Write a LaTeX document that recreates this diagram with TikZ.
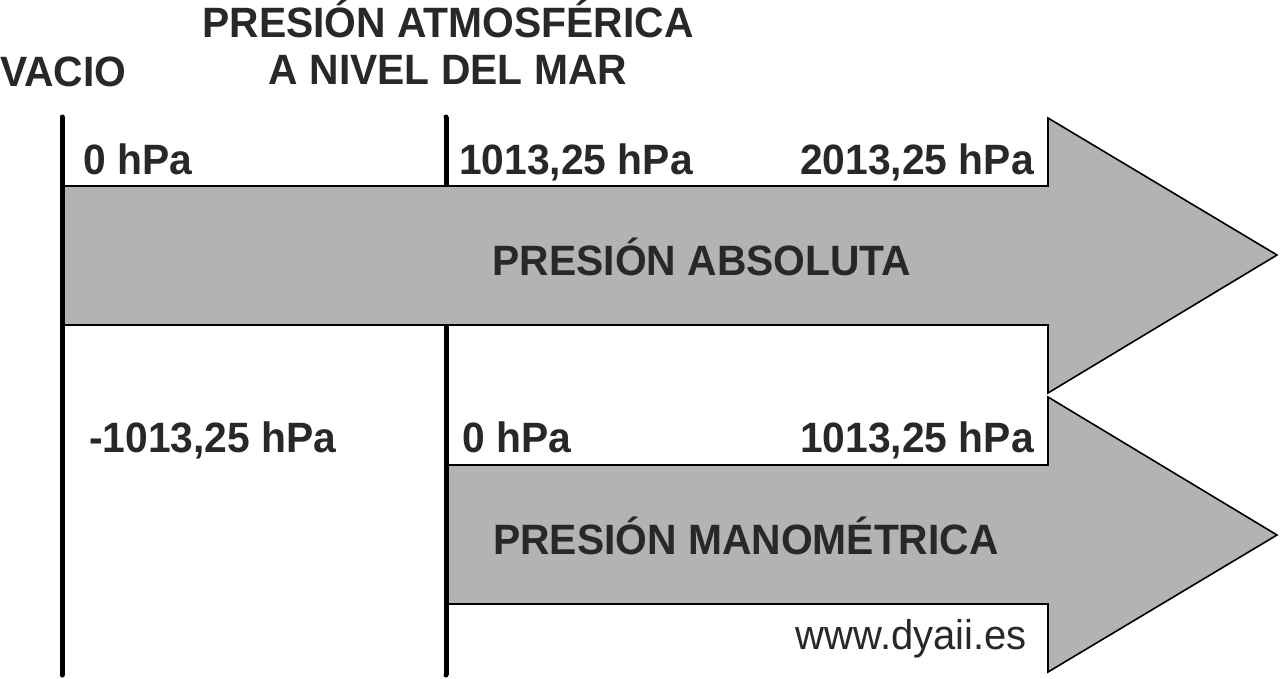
\documentclass[tikz,border=0pt]{standalone}
\usepackage{fontspec}
\setmainfont{Liberation Sans}
\definecolor{arrowgray}{RGB}{179,179,179}
\definecolor{txtgray}{RGB}{40,40,40}
\newcommand{\tallt}[1]{\scalebox{1}[1.04]{#1}}
\begin{document}
\begin{tikzpicture}[x=1pt,y=-1pt,
  arrowshape/.style={fill=arrowgray,draw=black,line width=1.6pt,line join=miter},
  axisline/.style={draw=black,line width=5pt,line cap=round},
  lbl/.style={inner sep=0pt,text=txtgray,font=\fontsize{40.8}{44}\selectfont\bfseries},
  web/.style={inner sep=0pt,text=txtgray,font=\fontsize{40}{44}\selectfont}]
\useasboundingbox (0,0) rectangle (1280,678);
% arrows
\draw[arrowshape] (62,186) -- (1048,186) -- (1048,118) -- (1277,255) -- (1048,393) -- (1048,325) -- (62,325) -- cycle;
\draw[arrowshape] (446,465) -- (1048,465) -- (1048,397) -- (1277,535) -- (1048,672) -- (1048,604) -- (446,604) -- cycle;
% vertical lines
\coordinate (vtop) at (62,117);
\coordinate (vbot) at (62,675);
\coordinate (atop) at (446,117);
\coordinate (ashafttop) at (446,186);
\coordinate (ashaftbot) at (446,325);
\coordinate (abot) at (446,675);
\draw[axisline] (vtop) -- (vbot);
\draw[axisline,line cap=butt] (atop) -- (ashafttop);
\draw[axisline,line cap=butt] (ashaftbot) -- (abot);
\fill (atop) circle (2.5pt);
\fill (abot) circle (2.5pt);
% titles
\node[lbl,anchor=base west] (vacio) at (0,86) {\tallt{VACIO}};
\node[lbl,anchor=base] (atm1) at (448,37) {\tallt{PRESIÓN ATMOSFÉRICA}};
\node[lbl,anchor=base] (atm2) at (448,84) {\tallt{A NIVEL DEL MAR}};
% upper labels
\node[lbl,anchor=base west] (a0) at (83,174) {\tallt{0 hPa}};
\node[lbl,anchor=base west] (a1) at (459,174) {\tallt{1013,25 hPa}};
\node[lbl,anchor=base east] (a2) at (1034,174) {\tallt{2013,25 hPa}};
\node[lbl,anchor=base] (abs) at (702,275) {\tallt{PRESIÓN ABSOLUTA}};
% lower labels
\node[lbl,anchor=base west] (m0) at (89,452) {\tallt{-1013,25 hPa}};
\node[lbl,anchor=base west] (m1) at (462,452) {\tallt{0 hPa}};
\node[lbl,anchor=base east] (m2) at (1034,452) {\tallt{1013,25 hPa}};
\node[lbl,anchor=base] (man) at (746,554) {\tallt{PRESIÓN MANOMÉTRICA}};
\node[web,anchor=base east] (www) at (1027,649) {\tallt{www.dyaii.es}};
\end{tikzpicture}
\end{document}
